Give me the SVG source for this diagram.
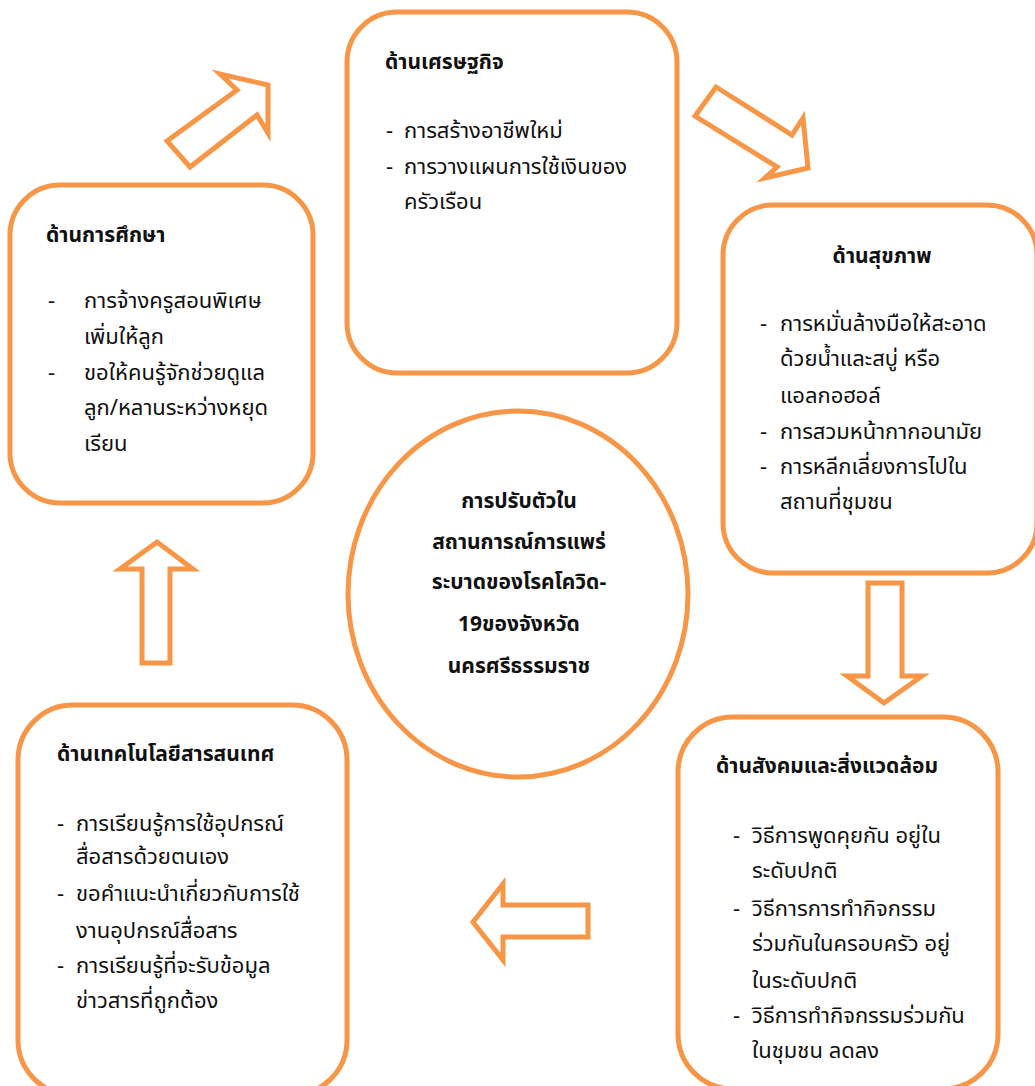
<svg xmlns="http://www.w3.org/2000/svg" width="1035" height="1086" viewBox="0 0 1035 1086">
<style>
.box{fill:#fff;stroke:#F79646;stroke-width:5}
.arr{fill:#fff;stroke:#F79646;stroke-width:5;stroke-linejoin:miter}
text{font-family:"Noto Sans Thai","Noto Sans","DejaVu Sans",sans-serif;fill:#111}
.h{font-size:21px;font-weight:bold}
.b{font-size:22px}
.c{font-size:21px;font-weight:bold;text-anchor:middle}
</style>
<rect width="1035" height="1086" fill="#fff"/>
<g id="connectors">
<polygon class="arr" points="167,141 237,90 220,74 268,85 268,133 257,115 190,167"/>
<polygon class="arr" points="716,87 792,135 803,118 808,168 765,178 777,167 695,116"/>
<polygon class="arr" points="868,583 902,583 902,676 922,676 884,703 847,676 868,676"/>
<polygon class="arr" points="473,922 503,884 503,905 588,905 588,937 503,937 503,960"/>
<polygon class="arr" points="157,542 193,569 170,569 170,663 142,663 142,569 120,569"/>
</g>
<g id="economy">
<rect class="box" x="347" y="12" width="330" height="361" rx="50"/>
<text class="h" x="385" y="69">ด้านเศรษฐกิจ</text>
<text class="b" x="386" y="138">-</text><text class="b" x="404" y="138">การสร้างอาชีพใหม่</text>
<text class="b" x="386" y="174">-</text><text class="b" x="404" y="174">การวางแผนการใช้เงินของ</text>
<text class="b" x="404" y="209">ครัวเรือน</text>
</g>
<g id="education">
<rect class="box" x="10" y="185" width="303" height="318" rx="50"/>
<text class="h" x="46" y="242">ด้านการศึกษา</text>
<text class="b" x="48" y="308">-</text><text class="b" x="84" y="308">การจ้างครูสอนพิเศษ</text>
<text class="b" x="84" y="344">เพิ่มให้ลูก</text>
<text class="b" x="48" y="380">-</text><text class="b" x="84" y="380">ขอให้คนรู้จักช่วยดูแล</text>
<text class="b" x="84" y="415">ลูก/หลานระหว่างหยุด</text>
<text class="b" x="84" y="451">เรียน</text>
</g>
<g id="health">
<rect class="box" x="723" y="205" width="314" height="368" rx="50"/>
<text class="h" x="882" y="263" text-anchor="middle">ด้านสุขภาพ</text>
<text class="b" x="760" y="331">-</text><text class="b" x="780" y="331">การหมั่นล้างมือให้สะอาด</text>
<text class="b" x="780" y="366">ด้วยน้ำและสบู่ หรือ</text>
<text class="b" x="780" y="403">แอลกอฮอล์</text>
<text class="b" x="760" y="439">-</text><text class="b" x="780" y="439">การสวมหน้ากากอนามัย</text>
<text class="b" x="760" y="474">-</text><text class="b" x="780" y="474">การหลีกเลี่ยงการไปใน</text>
<text class="b" x="780" y="509">สถานที่ชุมชน</text>
</g>
<g id="center">
<ellipse class="box" cx="518" cy="594" rx="170" ry="183"/>
<text class="c" x="519" y="508">การปรับตัวใน</text>
<text class="c" x="519" y="549">สถานการณ์การแพร่</text>
<text class="c" x="519" y="589">ระบาดของโรคโควิด-</text>
<text class="c" x="519" y="631">19ของจังหวัด</text>
<text class="c" x="519" y="673">นครศรีธรรมราช</text>
</g>
<g id="technology">
<rect class="box" x="18" y="705" width="329" height="390" rx="55"/>
<text class="h" x="57" y="761">ด้านเทคโนโลยีสารสนเทศ</text>
<text class="b" x="57" y="831">-</text><text class="b" x="76" y="831">การเรียนรู้การใช้อุปกรณ์</text>
<text class="b" x="76" y="864">สื่อสารด้วยตนเอง</text>
<text class="b" x="57" y="901">-</text><text class="b" x="76" y="901">ขอคำแนะนำเกี่ยวกับการใช้</text>
<text class="b" x="76" y="938">งานอุปกรณ์สื่อสาร</text>
<text class="b" x="57" y="973">-</text><text class="b" x="76" y="973">การเรียนรู้ที่จะรับข้อมูล</text>
<text class="b" x="76" y="1008">ข่าวสารที่ถูกต้อง</text>
</g>
<g id="social">
<rect class="box" x="678" y="717" width="320" height="372" rx="55"/>
<text class="h" x="716" y="773">ด้านสังคมและสิ่งแวดล้อม</text>
<text class="b" x="733" y="843">-</text><text class="b" x="752" y="843">วิธีการพูดคุยกัน อยู่ใน</text>
<text class="b" x="752" y="878">ระดับปกติ</text>
<text class="b" x="733" y="916">-</text><text class="b" x="752" y="916">วิธีการการทำกิจกรรม</text>
<text class="b" x="752" y="951">ร่วมกันในครอบครัว อยู่</text>
<text class="b" x="752" y="988">ในระดับปกติ</text>
<text class="b" x="733" y="1023">-</text><text class="b" x="752" y="1023">วิธีการทำกิจกรรมร่วมกัน</text>
<text class="b" x="752" y="1058">ในชุมชน ลดลง</text>
</g>
</svg>
